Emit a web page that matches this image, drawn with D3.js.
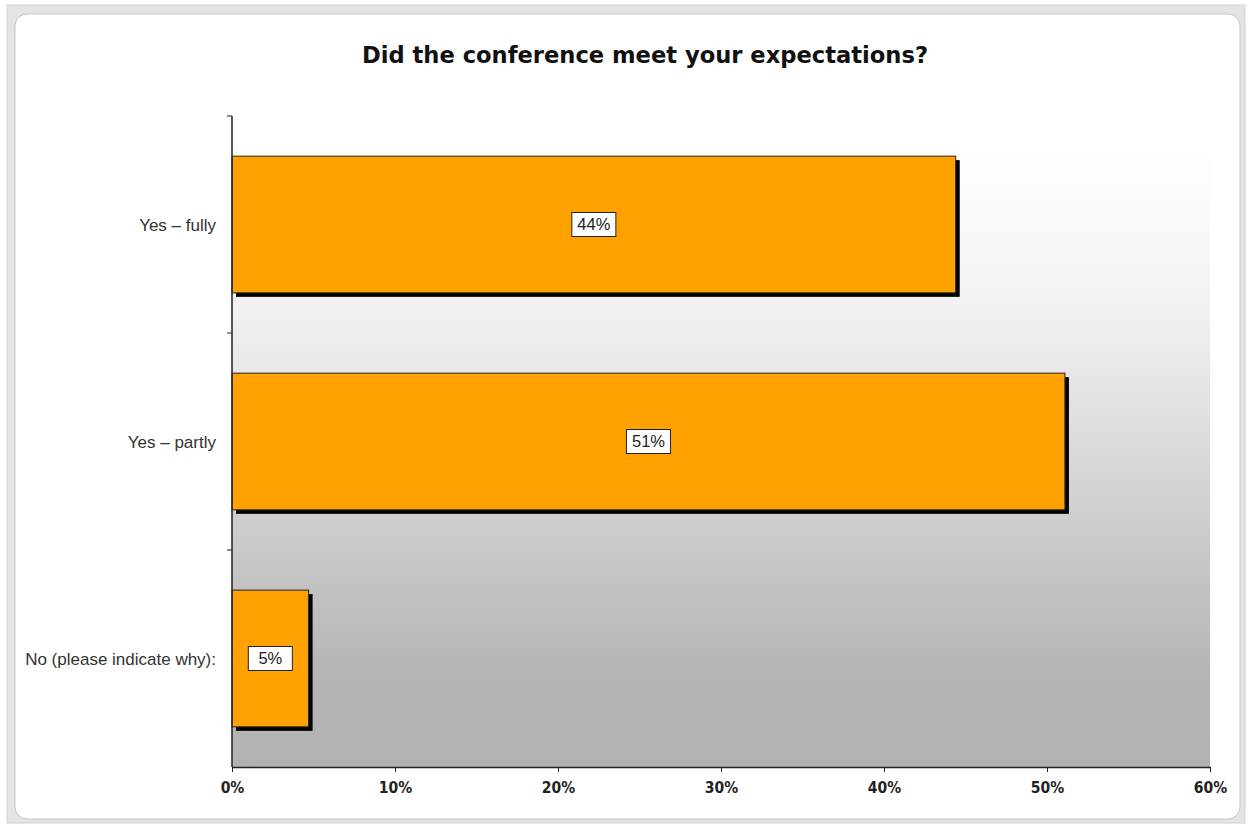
<!DOCTYPE html>
<html>
<head>
<meta charset="utf-8">
<script src="https://cdn.jsdelivr.net/npm/d3@7"></script>
<style>
  body { margin: 0; background: #fff; }
</style>
</head>
<body>
<script>
// ---------------- DATA ----------------
var categories = ['Yes \u2013 fully', 'Yes \u2013 partly', 'No (please indicate why):']
var values = [44.4, 51.1, 4.7]
var valueLabels = ['44%', '51%', '5%']
var xTicks = [0, 10, 20, 30, 40, 50, 60]
var title = 'Did the conference meet your expectations?'

// ---------------- SVG and FRAME ----------------
var width = 1247
var height = 825
var boldFont = "'DejaVu Sans Condensed', 'DejaVu Sans', Verdana, sans-serif"
var plainFont = "'Liberation Sans', Arial, sans-serif"

var svg = d3.select('body')
  .append('svg')
  .attr('width', width)
  .attr('height', height)

svg.append('rect')
  .attr('x', 7).attr('y', 5)
  .attr('width', 1238).attr('height', 818)
  .attr('fill', '#e4e4e4')
  .attr('stroke', '#d2d2d2')

svg.append('rect')
  .attr('x', 15).attr('y', 14)
  .attr('width', 1225).attr('height', 805)
  .attr('rx', 12)
  .attr('fill', '#ffffff')
  .attr('stroke', '#c4c4c4')

// ---------------- SCALES ----------------
var plot = { left: 232, right: 1210, top: 116, bottom: 767 }

var x = d3.scaleLinear()
  .domain([0, 60])
  .range([plot.left, plot.right])

var y = d3.scaleBand()
  .domain(categories)
  .range([plot.top, plot.bottom])
  .paddingInner(0.37)
  .paddingOuter(0.185)

// ---------------- BACKGROUND GRADIENT ----------------
var grad = svg.append('defs').append('linearGradient')
  .attr('id', 'bg')
  .attr('x1', 0).attr('y1', 0).attr('x2', 0).attr('y2', 1)

var stops = [[0, '#ffffff'], [0.1, '#fdfdfd'], [0.3, '#f1f1f1'], [0.5, '#dcdcdc'],
             [0.7, '#c5c5c5'], [0.86, '#b5b5b5'], [1, '#b2b2b2']]
grad.selectAll('stop')
  .data(stops)
  .enter()
  .append('stop')
  .attr('offset', function(d){ return d[0] })
  .attr('stop-color', function(d){ return d[1] })

svg.append('rect')
  .attr('x', plot.left).attr('y', plot.top)
  .attr('width', plot.right - plot.left)
  .attr('height', plot.bottom - plot.top)
  .attr('fill', 'url(#bg)')

// ---------------- TITLE ----------------
svg.append('text')
  .attr('x', 645)
  .attr('y', 63)
  .attr('text-anchor', 'middle')
  .style('font-family', boldFont)
  .style('font-stretch', 'condensed')
  .style('font-weight', 'bold')
  .style('font-size', '23px')
  .style('fill', '#111')
  .attr('textLength', 566)
  .attr('lengthAdjust', 'spacingAndGlyphs')
  .text(title)

// ---------------- BARS ----------------
var rows = categories.map(function(c, i){
  return { cat: c, value: values[i], label: valueLabels[i] }
})

var bars = svg.append('g')

// shadows
bars.selectAll('rect.shadow')
  .data(rows)
  .enter()
  .append('rect')
  .attr('class', 'shadow')
  .attr('x', function(d){ return x(0) + 4 })
  .attr('y', function(d){ return y(d.cat) + 4 })
  .attr('width', function(d){ return x(d.value) - x(0) })
  .attr('height', y.bandwidth())
  .attr('fill', '#000')

bars.selectAll('rect.bar')
  .data(rows)
  .enter()
  .append('rect')
  .attr('class', 'bar')
  .attr('x', x(0))
  .attr('y', function(d){ return y(d.cat) })
  .attr('width', function(d){ return x(d.value) - x(0) })
  .attr('height', y.bandwidth())
  .attr('fill', '#ffa200')
  .attr('stroke', '#222')
  .attr('stroke-width', 1)

// ---------------- VALUE LABELS ----------------
var labels = svg.append('g')
  .selectAll('g')
  .data(rows)
  .enter()
  .append('g')
  .attr('transform', function(d){
    return 'translate(' + ((x(0) + x(d.value)) / 2) + ',' + (y(d.cat) + y.bandwidth() / 2) + ')'
  })

labels.append('rect')
  .attr('x', -22).attr('y', -12)
  .attr('width', 44).attr('height', 24)
  .attr('fill', '#fff')
  .attr('stroke', '#222')

labels.append('text')
  .attr('text-anchor', 'middle')
  .attr('dy', '0.36em')
  .style('font-family', plainFont)
  .style('font-size', '16.5px')
  .style('fill', '#222')
  .text(function(d){ return d.label })

// ---------------- AXES ----------------
var xAxis = svg.append('g')
  .attr('transform', 'translate(0,' + plot.bottom + ')')
  .call(d3.axisBottom(x)
    .tickValues(xTicks)
    .tickSize(5)
    .tickSizeOuter(0)
    .tickFormat(function(d){ return d + '%' }))

xAxis.select('.domain').attr('stroke', '#222').attr('stroke-width', 1.5)
xAxis.selectAll('.tick line').attr('stroke', '#222')
xAxis.selectAll('.tick text')
  .attr('y', 26)
  .attr('dy', 0)
  .style('font-family', boldFont)
  .style('font-stretch', 'condensed')
  .style('font-weight', 'bold')
  .style('font-size', '15.5px')
  .style('fill', '#222')

// y axis line and boundary ticks
svg.append('line')
  .attr('x1', plot.left).attr('x2', plot.left)
  .attr('y1', plot.top).attr('y2', plot.bottom)
  .attr('stroke', '#222')
  .attr('stroke-width', 1.5)

var boundaries = categories.map(function(c){ return y(c) - y.step() * y.paddingOuter() })
svg.append('g')
  .selectAll('line')
  .data(boundaries)
  .enter()
  .append('line')
  .attr('x1', plot.left - 5).attr('x2', plot.left)
  .attr('y1', function(d){ return d }).attr('y2', function(d){ return d })
  .attr('stroke', '#222')

svg.append('g')
  .selectAll('text')
  .data(categories)
  .enter()
  .append('text')
  .attr('x', 216)
  .attr('y', function(d){ return y(d) + y.bandwidth() / 2 })
  .attr('dy', '0.36em')
  .attr('text-anchor', 'end')
  .style('font-family', plainFont)
  .style('font-size', '17px')
  .style('fill', '#333')
  .text(function(d){ return d })
</script>
</body>
</html>
